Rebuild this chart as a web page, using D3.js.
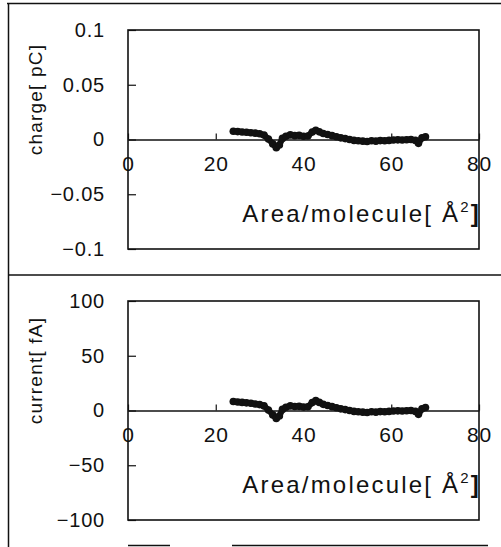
<!DOCTYPE html>
<html>
<head>
<meta charset="utf-8">
<script src="https://cdn.jsdelivr.net/npm/d3@7"></script>
<style>
  body { margin: 0; background: #fff; }
  svg { display: block; font-family: Arial, "Liberation Sans", sans-serif; }
</style>
</head>
<body>
<svg id="chart" width="501" height="547"></svg>
<script>
var areaCharge = [24.0, 25.0, 26.0, 27.0, 28.0, 29.0, 30.0, 31.0, 32.0, 33.0, 33.8, 34.5, 35.2, 36.0, 37.0, 38.0, 39.0, 40.0, 41.0, 42.0, 42.8, 43.6, 44.5, 45.5, 46.5, 47.5, 48.5, 49.5, 50.5, 51.5, 52.5, 53.5, 54.5, 55.5, 56.5, 57.5, 58.5, 59.5, 60.5, 61.5, 62.5, 63.5, 64.5, 65.5, 66.2, 67.0, 67.8]
var charge = [0.0076, 0.0072, 0.0069, 0.0066, 0.0062, 0.0058, 0.0052, 0.0040, 0.0005, -0.0040, -0.0075, -0.0050, 0.0010, 0.0030, 0.0042, 0.0035, 0.0038, 0.0030, 0.0032, 0.0068, 0.0085, 0.0070, 0.0055, 0.0045, 0.0035, 0.0025, 0.0015, 0.0008, 0.0000, -0.0008, -0.0012, -0.0015, -0.0018, -0.0012, -0.0015, -0.0010, -0.0012, -0.0008, -0.0005, -0.0003, -0.0005, -0.0002, 0.0000, -0.0008, -0.0035, 0.0015, 0.0025]

var areaCurrent = [24.0, 25.0, 26.0, 27.0, 28.0, 29.0, 30.0, 31.0, 32.0, 33.0, 33.8, 34.5, 35.2, 36.0, 37.0, 38.0, 39.0, 40.0, 41.0, 42.0, 42.8, 43.6, 44.5, 45.5, 46.5, 47.5, 48.5, 49.5, 50.5, 51.5, 52.5, 53.5, 54.5, 55.5, 56.5, 57.5, 58.5, 59.5, 60.5, 61.5, 62.5, 63.5, 64.5, 65.5, 66.2, 67.0, 67.8]
var current = [8.2, 7.8, 7.4, 7.0, 6.6, 6.0, 5.4, 4.2, 0.5, -4.0, -7.2, -5.0, 1.0, 3.0, 4.2, 3.6, 3.8, 3.2, 3.4, 7.2, 9.0, 7.4, 5.6, 4.6, 3.5, 2.5, 1.5, 0.8, 0.0, -0.8, -1.2, -1.5, -1.8, -1.2, -1.5, -1.0, -1.2, -0.8, -0.5, -0.3, -0.5, -0.2, 0.0, -0.8, -3.5, 1.5, 2.8]

var xTicks = [0, 20, 40, 60, 80]
var chargeTicks = [0.1, 0.05, 0, -0.05, -0.1]
var chargeTickLabels = ["0.1", "0.05", "0", "\u22120.05", "\u22120.1"]
var currentTicks = [100, 50, 0, -50, -100]
var currentTickLabels = ["100", "50", "0", "\u221250", "\u2212100"]

var dims = {
    panelHeight: 271,
    margin: { top: 30, bottom: 22, left: 128, right: 22 },
    width: 501
}

var svg = d3.select("#chart")

// outer frame lines of the scanned figure
svg.append("line").attr("x1", 7).attr("x2", 501).attr("y1", 3.5).attr("y2", 3.5)
    .attr("stroke", "#111").attr("stroke-width", 1.5)
svg.append("line").attr("x1", 8.5).attr("x2", 8.5).attr("y1", 3).attr("y2", 547)
    .attr("stroke", "#111").attr("stroke-width", 1.5)
svg.append("line").attr("x1", 8).attr("x2", 501).attr("y1", 275).attr("y2", 275)
    .attr("stroke", "#111").attr("stroke-width", 1.5)
// top edge of the next panel, cut off at the bottom
svg.append("line").attr("x1", 128).attr("x2", 170).attr("y1", 545.5).attr("y2", 545.5)
    .attr("stroke", "#111").attr("stroke-width", 1.5)
svg.append("line").attr("x1", 232).attr("x2", 488).attr("y1", 545.5).attr("y2", 545.5)
    .attr("stroke", "#111").attr("stroke-width", 1.5)

function drawPanel(offsetY, xs, ys, yTicks, yTickLabels, yTitle) {
    var g = svg.append("g").attr("transform", `translate(0,${offsetY})`)
    var top = dims.margin.top
    var bottom = dims.panelHeight - dims.margin.bottom
    var left = dims.margin.left
    var right = dims.width - dims.margin.right

    var xScale = d3.scaleLinear().domain([0, 80]).range([left, right])
    var yScale = d3.scaleLinear().domain([d3.min(yTicks), d3.max(yTicks)]).range([bottom, top])

    // y axis, ticks pointing inwards
    var yAxisGen = d3.axisLeft(yScale)
        .tickValues(yTicks)
        .tickFormat((d, i) => yTickLabels[i])
        .tickSizeInner(-8)
        .tickSizeOuter(0)
        .tickPadding(23)
    var yAxis = g.append("g")
        .attr("transform", `translate(${left},0)`)
        .call(yAxisGen)
    yAxis.select(".domain").remove()
    yAxis.selectAll("line").attr("stroke", "#111").attr("stroke-width", 1.2)
    yAxis.selectAll("text").attr("font-size", 20).attr("fill", "#111")
        .attr("font-family", "Arial, 'Liberation Sans', sans-serif")
        .attr("letter-spacing", 0.8)

    // x axis on the zero line, ticks pointing up
    var xAxisGen = d3.axisBottom(xScale)
        .tickValues(xTicks)
        .tickSizeInner(-6)
        .tickSizeOuter(0)
        .tickPadding(17)
    var xAxis = g.append("g")
        .attr("transform", `translate(0,${yScale(0)})`)
        .call(xAxisGen)
    xAxis.select(".domain").attr("stroke", "#111").attr("stroke-width", 1.3)
    xAxis.selectAll("line").attr("stroke", "#111").attr("stroke-width", 1.2)
    xAxis.selectAll("text").attr("font-size", 21).attr("fill", "#111")
        .attr("font-family", "Arial, 'Liberation Sans', sans-serif")
        .attr("letter-spacing", 0.8)

    // plot frame
    g.append("rect")
        .attr("x", left).attr("y", top)
        .attr("width", right - left).attr("height", bottom - top)
        .attr("fill", "none").attr("stroke", "#111").attr("stroke-width", 1.6)

    // data: thick marker line
    var pts = xs.map((x, i) => [x, ys[i]])
    var line = d3.line().x(d => xScale(d[0])).y(d => yScale(d[1]))
    g.append("path").datum(pts)
        .attr("d", line)
        .attr("fill", "none").attr("stroke", "#111")
        .attr("stroke-width", 6).attr("stroke-linejoin", "round").attr("stroke-linecap", "round")
    g.append("g").selectAll("circle")
        .data(pts)
        .enter()
        .append("circle")
        .attr("cx", d => xScale(d[0]))
        .attr("cy", d => yScale(d[1]))
        .attr("r", 3.8)
        .attr("fill", "#111")

    // axis titles
    var xTitle = g.append("text")
        .attr("x", right + 2)
        .attr("y", 222)
        .attr("text-anchor", "end")
        .attr("font-size", 24)
        .attr("letter-spacing", 2.2)
        .attr("fill", "#111")
    xTitle.append("tspan").text("Area/molecule[ \u00c5")
    xTitle.append("tspan").attr("font-size", 15).attr("dy", -10).text("2")
    xTitle.append("tspan").attr("dy", 10).attr("font-weight", "bold").text("]")

    g.append("text")
        .attr("transform", `translate(42,${(top + bottom) / 2 - 40}) rotate(-90)`)
        .attr("text-anchor", "middle")
        .attr("font-size", 19)
        .attr("letter-spacing", 1.2)
        .attr("fill", "#111")
        .text(yTitle)
}

drawPanel(0, areaCharge, charge, chargeTicks, chargeTickLabels, "charge[ pC]")
drawPanel(271, areaCurrent, current, currentTicks, currentTickLabels, "current[ fA]")
</script>
</body>
</html>
